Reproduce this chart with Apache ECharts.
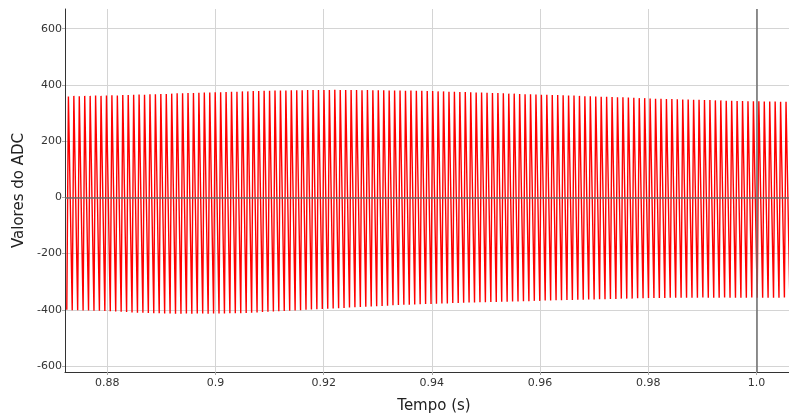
<!DOCTYPE html>
<html>
<head>
<meta charset="utf-8">
<script src="https://cdn.jsdelivr.net/npm/echarts@6/dist/echarts.min.js"></script>
<style>
html,body{margin:0;padding:0;background:#fff;}
#chart{width:789px;height:419px;}
</style>
</head>
<body>
<div id="chart"></div>
<script>
// ---- data ----
// time of the first positive peak (s) and spacing between successive peaks (s)
const firstPeakTime = 0.87283;
const peakSpacing = 0.0010047;
// delay between a trough and the following peak (steep rising edge), s
const riseTime = 0.0003;

// positive peaks, one per cycle
const peakValues = [
  359, 361, 360, 361, 361, 362, 361, 362, 363, 362,
  364, 364, 365, 366, 365, 367, 367, 368, 368, 369,
  370, 370, 371, 371, 372, 373, 373, 374, 374, 375,
  376, 376, 377, 377, 378, 378, 379, 379, 380, 380,
  380, 381, 381, 381, 382, 382, 382, 382, 382, 383,
  382, 382, 382, 382, 381, 382, 381, 381, 381, 380,
  380, 380, 379, 380, 379, 379, 378, 378, 377, 377,
  376, 376, 375, 375, 374, 373, 373, 372, 371, 371,
  370, 369, 369, 368, 367, 367, 366, 365, 365, 364,
  364, 363, 362, 362, 361, 360, 360, 359, 358, 358,
  357, 356, 356, 355, 354, 353, 353, 352, 351, 351,
  350, 350, 349, 348, 348, 347, 347, 346, 346, 345,
  345, 344, 344, 343, 343, 342, 342, 342, 341, 341,
  341, 340, 340
];

// troughs, the one preceding each peak (plus a final one)
const troughValues = [
  -400, -401, -401, -402, -402, -403, -403, -404, -405, -406,
  -407, -408, -409, -410, -410, -411, -412, -412, -413, -413,
  -414, -414, -413, -414, -413, -413, -414, -413, -413, -413,
  -412, -412, -412, -411, -410, -409, -408, -407, -406, -405,
  -404, -403, -402, -401, -400, -399, -398, -397, -396, -395,
  -394, -393, -392, -391, -390, -389, -388, -387, -386, -385,
  -384, -383, -382, -382, -381, -380, -379, -379, -378, -377,
  -377, -376, -376, -375, -374, -374, -373, -373, -372, -372,
  -371, -371, -370, -370, -369, -369, -368, -368, -367, -367,
  -366, -366, -365, -365, -364, -364, -363, -363, -362, -362,
  -361, -361, -360, -360, -360, -359, -359, -358, -358, -358,
  -358, -357, -357, -357, -357, -357, -357, -356, -357, -357,
  -357, -356, -357, -357, -357, -357, -356, -357, -357, -357,
  -357, -357, -356, -357
];

const xTickLabels = ['0.88', '0.9', '0.92', '0.94', '0.96', '0.98', '1.0'];
const yTickLabels = ['-600', '-400', '-200', '0', '200', '400', '600'];
const xAxisTitle = 'Tempo (s)';
const yAxisTitle = 'Valores do ADC';

// ---- build the series ----
const signal = [];
for (let i = 0; i < troughValues.length; i++) {
  const tPeak = firstPeakTime + i * peakSpacing;
  signal.push([tPeak - riseTime, troughValues[i]]);
  if (i < peakValues.length) signal.push([tPeak, peakValues[i]]);
}

const gridColor = '#d4d4d4';
const labelColor = '#333';
const font = 'DejaVu Sans';

function fmtX(v) {
  const s = String(+v.toFixed(2));
  const lab = s === '1' ? '1.0' : s;
  return xTickLabels.indexOf(lab) >= 0 ? lab : '';
}
function fmtY(v) {
  const s = String(Math.round(v));
  return yTickLabels.indexOf(s) >= 0 && Math.abs(v - Math.round(v)) < 1e-6 ? s : '';
}

const chart = echarts.init(document.getElementById('chart'), null, {renderer: 'canvas'});
chart.setOption({
  animation: false,
  backgroundColor: '#fff',
  grid: {left: 65, right: 0, top: 9, bottom: 43, containLabel: false},
  xAxis: {
    type: 'value',
    min: 0.8722, max: 1.006,
    minInterval: 0.02, maxInterval: 0.02,
    name: xAxisTitle,
    nameLocation: 'middle',
    nameGap: 27,
    nameTextStyle: {fontFamily: font, fontSize: 15, color: '#222', padding: [0, 0, 0, 14]},
    axisLine: {show: true, onZero: false, lineStyle: {color: '#333', width: 1}},
    axisTick: {show: true, length: 3, lineStyle: {color: '#aaa'}},
    axisLabel: {showMinLabel: false, showMaxLabel: false, fontFamily: font, fontSize: 11, color: labelColor, margin: 6, formatter: fmtX},
    splitLine: {show: true, showMinLine: false, showMaxLine: false, lineStyle: {color: gridColor, width: 1}}
  },
  yAxis: {
    type: 'value',
    min: -621, max: 670,
    minInterval: 200, maxInterval: 200,
    name: yAxisTitle,
    nameLocation: 'middle',
    nameGap: 33,
    nameTextStyle: {fontFamily: font, fontSize: 15, color: '#222'},
    axisLine: {show: true, onZero: false, lineStyle: {color: '#333', width: 1}},
    axisTick: {show: true, length: 3, lineStyle: {color: '#aaa'}},
    axisLabel: {showMinLabel: false, showMaxLabel: false, fontFamily: font, fontSize: 11, color: labelColor, margin: 3, formatter: fmtY},
    splitLine: {show: true, showMinLine: false, showMaxLine: false, lineStyle: {color: gridColor, width: 1}}
  },
  series: [{
    type: 'line',
    data: signal,
    showSymbol: false,
    symbol: 'none',
    sampling: null,
    clip: true,
    lineStyle: {color: '#ff0000', width: 1.4},
    itemStyle: {color: '#ff0000'},
    markLine: {
      silent: true,
      symbol: 'none',
      label: {show: false},
      lineStyle: {color: '#6e6e6e', width: 1.5, type: 'solid'},
      data: [{xAxis: 1.0}, {yAxis: 0}]
    }
  }]
});
</script>
</body>
</html>
